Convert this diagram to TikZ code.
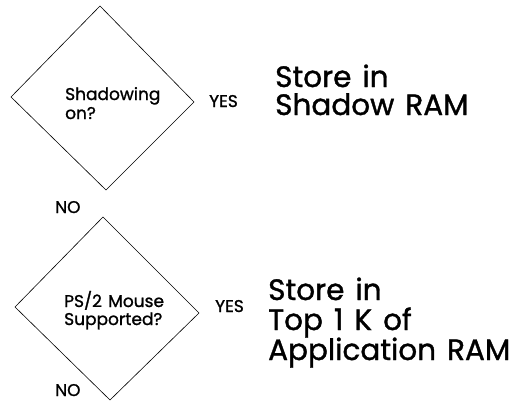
\documentclass[tikz,border=0pt]{standalone}
\usepackage{fontspec}
\setmainfont{Poppins}
\newfontfamily\heavyfont[FakeBold=1.2]{Poppins}
\newfontfamily\heavywide[FakeBold=1.2,WordSpace=1.4]{Poppins}
\begin{document}
\begin{tikzpicture}[x=1pt,y=-1pt,
  dia/.style={draw=black,line width=0.6pt,line join=miter},
  small/.style={anchor=base west,inner sep=0pt,font=\heavyfont\fontsize{17}{17}\selectfont},
  big/.style={anchor=base west,inner sep=0pt,font=\heavywide\fontsize{29.5}{29.5}\selectfont}]
\useasboundingbox (0,0) rectangle (515,402);
% diamond 1
\draw[dia] (100,6) coordinate (d1t) -- (194,102) coordinate (d1r) -- (106,190) coordinate (d1b) -- (11,97) coordinate (d1l) -- cycle;
\node[small] (q1a) at (65,100) {Shadowing};
\node[small] (q1b) at (65,119) {on?};
\node[small] (y1) at (209,107) {YES};
\node[small] (n1) at (55,213) {NO};
\node[big] (r1a) at (275,87) {Store in};
\node[big] (r1b) at (275,115) {Shadow RAM};
% diamond 2
\draw[dia] (103,217) coordinate (d2t) -- (199,313) coordinate (d2r) -- (110,400) coordinate (d2b) -- (15,307) coordinate (d2l) -- cycle;
\node[small] (q2a) at (64,307) {PS/2 Mouse};
\node[small] (q2b) at (64,325) {Supported?};
\node[small] (y2) at (215,312) {YES};
\node[small] (n2) at (55,396) {NO};
\node[big] (r2a) at (268,300) {Store in};
\node[big] (r2b) at (268,330) {Top 1 K of};
\node[big] (r2c) at (268,360) {Application RAM};
\end{tikzpicture}
\end{document}
